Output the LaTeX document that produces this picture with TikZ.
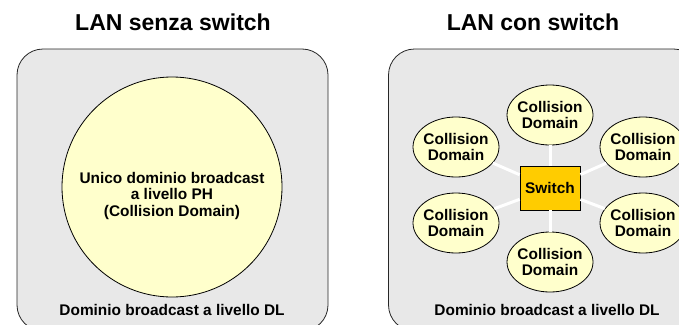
\documentclass[tikz,border=0pt]{standalone}
\usepackage{fontspec}
\setmainfont{Liberation Sans}
\usetikzlibrary{shapes.geometric}
\definecolor{boxgray}{HTML}{E8E8E8}
\definecolor{cdyellow}{HTML}{FFFFCC}
\definecolor{swgold}{HTML}{FFCC00}

\begin{document}
\begin{tikzpicture}[x=1pt, y=-1pt,
  every node/.style={font=\bfseries\fontsize{15.4}{16.5}\selectfont},
  lanbox/.style={draw=black!85, line width=0.8pt, fill=boxgray, rounded corners=26pt,
    minimum width=311pt, minimum height=282pt, inner sep=0pt},
  title/.style={font=\bfseries\fontsize{23}{26}\selectfont},
  cdom/.style={draw, line width=0.8pt, ellipse, fill=cdyellow, align=center,
    minimum width=86pt, minimum height=60pt, inner xsep=-3pt, inner ysep=0pt},
  link/.style={white, line width=3pt}]
  \useasboundingbox (0,0) rectangle (679,324);
  \clip (0,0) rectangle (679,324);

  % LAN senza switch
  \node[title] (titA) at (173,22) {LAN senza switch};
  \node[lanbox] (boxA) at (172.5,190) {};
  \node[draw, line width=0.8pt, circle, fill=cdyellow, minimum size=220pt, inner sep=0pt,
    label={[align=center, yshift=-9pt]center:Unico dominio broadcast\\a livello PH\\(Collision Domain)}]
    (cdall) at (172,187) {};
  \node (dlA) at (172,310) {Dominio broadcast a livello DL};

  % LAN con switch
  \node[title] (titB) at (533,22) {LAN con switch};
  \node[lanbox] (boxB) at (544,190) {};
  \node[draw, line width=0.8pt, fill=swgold, minimum width=60pt, minimum height=44pt] (sw) at (550,188) {Switch};
  \node[cdom] (cd1) at (550,115) {Collision\\Domain};
  \node[cdom] (cd2) at (643,147) {Collision\\Domain};
  \node[cdom] (cd3) at (643,223) {Collision\\Domain};
  \node[cdom] (cd4) at (550,262) {Collision\\Domain};
  \node[cdom] (cd5) at (456,223) {Collision\\Domain};
  \node[cdom] (cd6) at (456,147) {Collision\\Domain};
  \node (dlB) at (547,310) {Dominio broadcast a livello DL};

  % collegamenti allo switch
  \foreach \cd in {cd1,cd2,cd3,cd4,cd5,cd6}
    \draw[link] (sw) -- (\cd);
\end{tikzpicture}
\end{document}
